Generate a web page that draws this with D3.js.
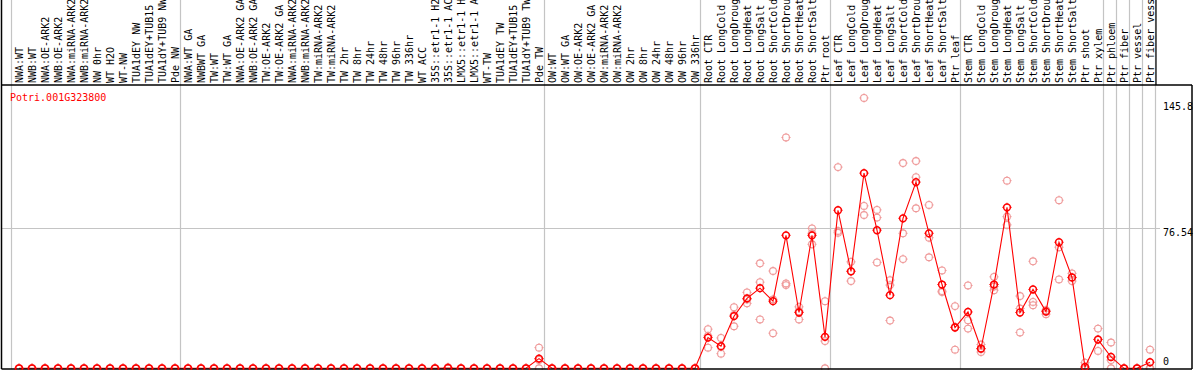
<!DOCTYPE html>
<html><head><meta charset="utf-8">
<script src="https://cdn.jsdelivr.net/npm/d3@7"></script>
<style>body{margin:0;background:#fff}svg{display:block}</style>
</head><body>
<script>
const categories = ["NWA:WT","NWB:WT","NWA:OE-ARK2","NWB:OE-ARK2","NWA:miRNA-ARK2","NWB:miRNA-ARK2","NW 0hr","WT H2O","WT-NW","TUA1dEY NW","TUA1dEY+TUB15","TUA1dY+TUB9 NW","Pde NW",
"NWA:WT GA","NWBWT GA","TW:WT","TW:WT GA","NWA:OE-ARK2 GA","NWB:OE-ARK2 GA","TW:OE-ARK2","TW:OE-ARK2 GA","NWA:miRNA-ARK2","NWB:miRNA-ARK2","TW:miRNA-ARK2","TW:miRNA-ARK2","TW 2hr","TW 8hr","TW 24hr","TW 48hr","TW 96hr","TW 336hr","WT ACC","35S::etr1-1 H2","35S::etr1-1 AC","LMX5::etr1-1 H","LMX5::etr1-1 A","WT-TW","TUA1dEY TW","TUA1dEY+TUB15","TUA1dY+TUB9 TW","Pde TW",
"OW:WT","OW:WT GA","OW:OE-ARK2","OW:OE-ARK2 GA","OW:miRNA-ARK2","OW:miRNA-ARK2","OW 2hr","OW 8hr","OW 24hr","OW 48hr","OW 96hr","OW 336hr",
"Root CTR","Root LongCold","Root LongDroug","Root LongHeat","Root LongSalt","Root ShortCold","Root ShortDrou","Root ShortHeat","Root ShortSalt","Ptr root",
"Leaf CTR","Leaf LongCold","Leaf LongDroug","Leaf LongHeat","Leaf LongSalt","Leaf ShortCold","Leaf ShortDrou","Leaf ShortHeat","Leaf ShortSalt","Ptr leaf",
"Stem CTR","Stem LongCold","Stem LongDroug","Stem LongHeat","Stem LongSalt","Stem ShortCold","Stem ShortDrou","Stem ShortHeat","Stem ShortSalt","Ptr shoot","Ptr xylem",
"Ptr phloem","Ptr fiber","Ptr vessel","Ptr fiber vess"];

// group boundaries (index of first category of each group, plus end)
const groupStarts = [0,13,41,53,63,73,84,85,86,87,88];

const zeros = n => Array(n).fill(0);
const meanValues = [].concat(
  zeros(33), [0.2], zeros(6), [5.3], zeros(12),
  [16.8,12.1,28.5,38.2,43.8,36.7,72.7,30.5,72.7,17.2,
   86.4,53.0,106.7,75.5,40.0,82.0,101.8,73.8,45.8,22.3,
   30.8,10.8,45.8,88.0,30.5,43.1,31.0,68.9,49.7,0.7,15.7,
   6.2,0,0,3.3]);
const rep1 = [].concat(
  zeros(33), [0.6], zeros(6), [11.3], zeros(12),
  [21.4,16.6,33.4,41.5,57.4,53.2,126.2,33.6,76.5,36.7,
   110.0,58.2,147.8,86.6,48.2,112.2,113.3,89.3,53.5,34.0,
   45.3,13.0,50.0,102.6,39.5,58.5,31.8,91.9,51.9,3.1,21.7,
   14.1,0,0,10.2]);
const rep2 = [].concat(
  zeros(33), [0], zeros(6), [4.6], zeros(12),
  [11.3,8.0,23.0,35.5,47.1,19.2,46.4,26.7,67.8,0,
   74.1,47.7,88.8,82.4,45.5,73.8,104.5,71.4,42.2,10.2,
   26.3,8.9,42.7,82.9,32.7,36.3,29.6,48.6,47.7,0,9.5,
   0,0,0,0]);
const rep3 = [].concat(
  zeros(33), [0], zeros(6), [0], zeros(12),
  [17.7,11.7,29.1,37.6,26.7,37.7,45.5,31.2,73.8,14.9,
   75.1,53.1,83.8,57.9,26.1,59.7,87.5,60.7,41.7,22.7,
   21.7,10.5,44.7,78.4,19.6,34.5,31.6,66.2,49.5,0,15.9,
   4.5,0,0,0]);

const yTicks = [0, 76.54, 145.8];
const geneName = "Potri.001G323800";

const W = 1194, H = 370;
const svg = d3.select("body").append("svg").attr("width", W).attr("height", H);
const FONT = "DejaVu Sans Mono";

const x = d3.scaleLinear().domain([0, categories.length - 1]).range([19, 1150]);
const y = d3.scaleLinear().domain([0, 76.54]).range([368.3, 228.3]);

const plotTop = 85, plotBottom = 369, plotLeft = 1.5, plotRight = 1192;

// vertical group gridlines
svg.append("g").selectAll("line").data(groupStarts).join("line")
  .attr("x1", d => Math.round(x(d) - 8) + 0.5).attr("x2", d => Math.round(x(d) - 8) + 0.5)
  .attr("y1", 0).attr("y2", plotBottom)
  .attr("stroke", "#c4c4c4").attr("stroke-width", 1.2);

// horizontal gridline at middle tick
svg.append("line")
  .attr("x1", plotLeft).attr("x2", 1160)
  .attr("y1", Math.round(y(76.54)) + 0.5).attr("y2", Math.round(y(76.54)) + 0.5)
  .attr("stroke", "#c4c4c4").attr("stroke-width", 1.2);

// category labels
svg.append("g").selectAll("text").data(categories).join("text")
  .attr("transform", (d, i) => `translate(${x(i)},83) rotate(-90)`)
  .attr("dy", "0.35em")
  .attr("font-family", FONT).attr("font-size", 10)
  .attr("fill", "#000")
  .text(d => d);

// borders
svg.append("line").attr("x1", plotLeft).attr("x2", plotRight).attr("y1", plotTop).attr("y2", plotTop)
  .attr("stroke", "#000").attr("stroke-width", 1.5);
svg.append("line").attr("x1", plotLeft).attr("x2", plotLeft).attr("y1", 0).attr("y2", plotBottom)
  .attr("stroke", "#000").attr("stroke-width", 1.5);
svg.append("line").attr("x1", 1156).attr("x2", 1156).attr("y1", 0).attr("y2", plotTop)
  .attr("stroke", "#000").attr("stroke-width", 1.2);
svg.append("line").attr("x1", plotRight).attr("x2", plotRight).attr("y1", plotTop).attr("y2", plotBottom)
  .attr("stroke", "#000").attr("stroke-width", 1.5);

// title
svg.append("text").attr("x", 10).attr("y", 101)
  .attr("font-family", FONT).attr("font-size", 10).attr("fill", "#ff0000")
  .text(geneName);

// y tick labels
svg.append("g").selectAll("text").data(yTicks).join("text")
  .attr("x", 1163)
  .attr("y", d => d === 0 ? y(d) - 3 : y(d) + 8)
  .attr("font-family", FONT).attr("font-size", 10).attr("fill", "#000")
  .text(d => d);

// marker helper
function marker(g, cx, cy, color, sw) {
  g.append("circle").attr("cx", cx).attr("cy", cy).attr("r", 3.4)
    .attr("fill", "none").attr("stroke", color).attr("stroke-width", sw);
  const t = 4.6, s = 2.8;
  [[0,-s,0,-t],[0,s,0,t],[-s,0,-t,0],[s,0,t,0]].forEach(p => {
    g.append("line").attr("x1", cx + p[0]).attr("y1", cy + p[1]).attr("x2", cx + p[2]).attr("y2", cy + p[3])
      .attr("stroke", color).attr("stroke-width", 1);
  });
}

// replicates
const repG = svg.append("g");
[rep1, rep2, rep3].forEach(rep => {
  rep.forEach((v, i) => marker(repG, x(i), y(v), "#ef9a9a", 1.1));
});

// mean line
svg.append("path")
  .datum(meanValues)
  .attr("d", d3.line().x((d, i) => x(i)).y(d => y(d)))
  .attr("fill", "none").attr("stroke", "#ff0000").attr("stroke-width", 1.1);

// bottom border
svg.append("line").attr("x1", plotLeft).attr("x2", plotRight).attr("y1", plotBottom).attr("y2", plotBottom)
  .attr("stroke", "#000").attr("stroke-width", 1.5);

// means
const meanG = svg.append("g");
meanValues.forEach((v, i) => marker(meanG, x(i), y(v), "#ff0000", 1.5));
</script>
</body></html>
